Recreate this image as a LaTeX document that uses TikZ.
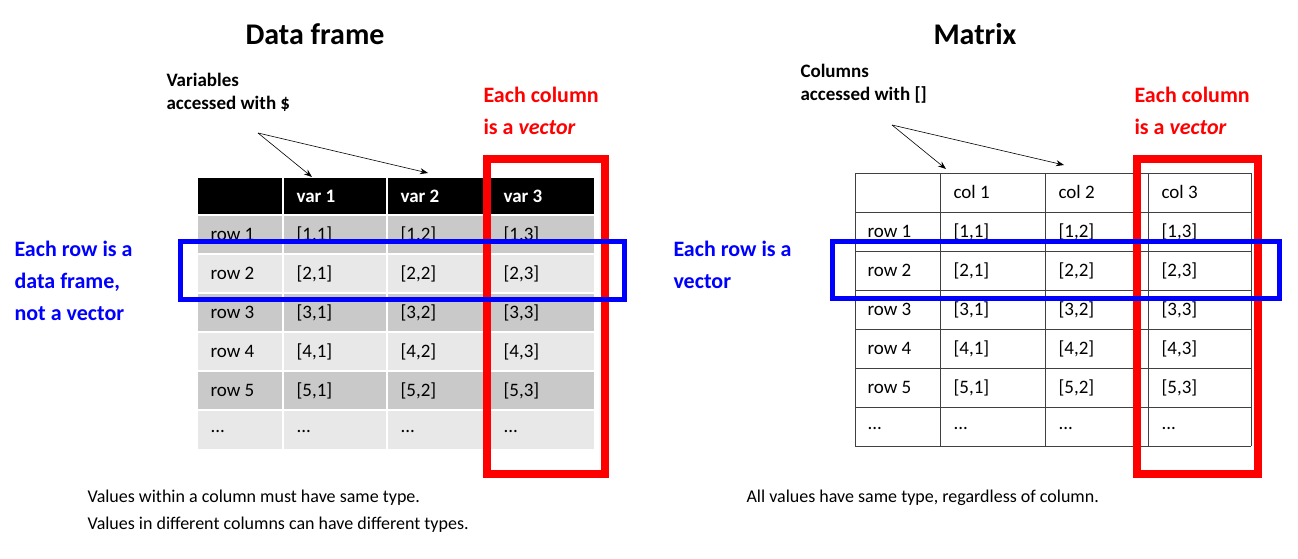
\documentclass[tikz,border=0pt]{standalone}
\usepackage{fontspec}
\setmainfont{Carlito}
\usetikzlibrary{arrows.meta}
\begin{document}
\begin{tikzpicture}[x=1pt,y=-1pt,
  title/.style={font=\fontsize{30}{32}\selectfont\bfseries,anchor=base},
  note/.style={font=\fontsize{19}{23}\selectfont\bfseries,align=left,anchor=north west},
  red lab/.style={font=\fontsize{22}{32}\selectfont\bfseries,text=red,align=left,anchor=north west},
  blue lab/.style={font=\fontsize{22}{32}\selectfont\bfseries,text=blue,align=left,anchor=north west},
  cell/.style={font=\fontsize{19}{22}\selectfont,anchor=west},
  hcell/.style={font=\fontsize{19}{22}\selectfont\bfseries,anchor=west,text=white},
  foot/.style={font=\fontsize{18}{27}\selectfont,align=left,anchor=north west},
  arr/.style={-{Stealth[length=8pt,width=6pt]},line width=0.6pt},
  redbox/.style={draw=red,line width=8pt},
  bluebox/.style={draw=blue,line width=5pt},
  grid/.style={draw=black!75,line width=1pt}]
\useasboundingbox (0,0) rectangle (1298,559);
% Titles
\node[title] (t1) at (315,45) {Data frame};
\node[title] (t2) at (975,45) {Matrix};
% Left table
\fill[black] (198,178) rectangle (594,215);
\foreach \r in {1,...,6}{
  \pgfmathsetmacro\ya{215+39*(\r-1)}
  \pgfmathtruncatemacro\odd{mod(\r,2)}
  \ifnum\odd=1 \def\col{black!21}\else\def\col{black!9}\fi
  \fill[\col] (198,\ya) rectangle (594,\ya+39);
  \draw[white,line width=1.5pt] (198,\ya) -- (594,\ya);
}
\foreach \x in {283,387,490}{\draw[white,line width=1.5pt] (\x,178) -- (\x,449);}
\node[hcell] (h1) at (293,196) {var 1};
\node[hcell] (h2) at (397,196) {var 2};
\node[hcell] (h3) at (500,196) {var 3};
\foreach \r in {1,...,5}{
  \pgfmathsetmacro\ym{215+39*(\r-1)+19.5}
  \node[cell] (lr\r) at (207,\ym) {row \r};
  \node[cell] (la\r) at (293,\ym) {[\r,1]};
  \node[cell] (lb\r) at (397,\ym) {[\r,2]};
  \node[cell] (lc\r) at (500,\ym) {[\r,3]};
}
\node[cell] (lr6) at (207,431) {...};
\node[cell] (la6) at (293,431) {...};
\node[cell] (lb6) at (397,431) {...};
\node[cell] (lc6) at (500,431) {...};
% Right table
\foreach \x in {855,940,1045,1148,1251}{\draw[grid] (\x,173) -- (\x,446);}
\foreach \y in {173,212,251,290,329,368,407,446}{\draw[grid] (855,\y) -- (1251,\y);}
\node[cell] (c1) at (950,192) {col 1};
\node[cell] (c2) at (1055,192) {col 2};
\node[cell] (c3) at (1158,192) {col 3};
\foreach \r in {1,...,5}{
  \pgfmathsetmacro\ym{173+39*\r+19.5}
  \node[cell] (rr\r) at (864,\ym) {row \r};
  \node[cell] (ra\r) at (950,\ym) {[\r,1]};
  \node[cell] (rb\r) at (1055,\ym) {[\r,2]};
  \node[cell] (rc\r) at (1158,\ym) {[\r,3]};
}
\node[cell] (rr6) at (864,428) {...};
\node[cell] (ra6) at (950,428) {...};
\node[cell] (rb6) at (1055,428) {...};
\node[cell] (rc6) at (1158,428) {...};
% boxes
\node[redbox,minimum width=118pt,minimum height=315pt,inner sep=0] (rbl) at (546,316.5) {};
\node[redbox,minimum width=121pt,minimum height=315pt,inner sep=0] (rbr) at (1197.5,316.5) {};
\node[bluebox,minimum width=444pt,minimum height=58pt,inner sep=0] (bbl) at (402,270.5) {};
\node[bluebox,minimum width=447pt,minimum height=57pt,inner sep=0] (bbr) at (1056,270) {};
% labels
\node[note] (n1) at (163,70) {Variables\\accessed with \$};
\node[note] (n2) at (797,61) {Columns\\accessed with []};
\node[red lab] (e1) at (480,84) {Each column\\is a \textit{vector}};
\node[red lab] (e2) at (1131,84) {Each column\\is a \textit{vector}};
\node[blue lab] (b1) at (11,238) {Each row is a\\data frame,\\not a vector};
\node[blue lab] (b2) at (670,238) {Each row is a\\vector};
\node[foot] (f1) at (84,486) {Values within a column must have same type.\\Values in different columns can have different types.};
\node[foot] (f2) at (743,486) {All values have same type, regardless of column.};
% arrows
\coordinate (s1) at (258,133);
\coordinate (s2) at (892,125);
\coordinate (a1) at (312,177);
\coordinate (a2) at (428,173);
\coordinate (a3) at (946,169);
\coordinate (a4) at (1064,165);
\draw[arr] (s1) -- (a1);
\draw[arr] (s1) -- (a2);
\draw[arr] (s2) -- (a3);
\draw[arr] (s2) -- (a4);
\end{tikzpicture}
\end{document}
